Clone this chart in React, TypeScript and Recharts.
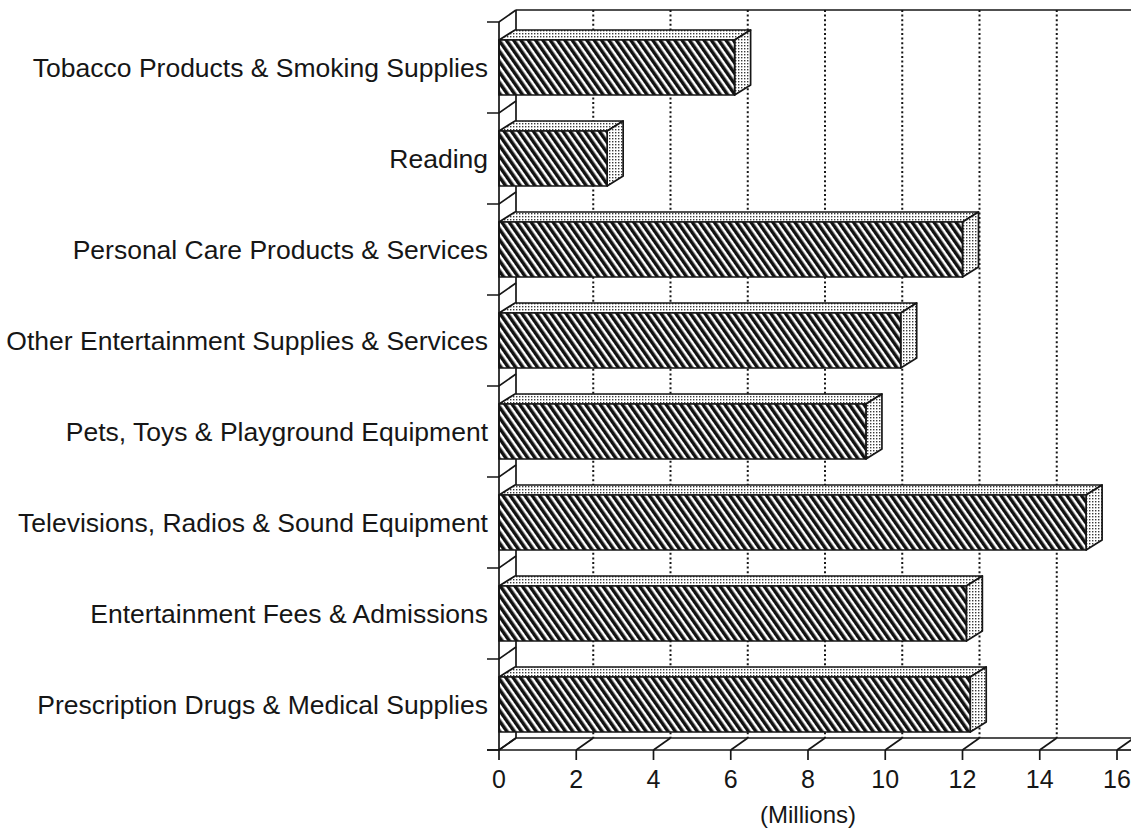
import { BarChart, Bar, XAxis, YAxis, CartesianGrid } from 'recharts';

const categories = [
  'Tobacco Products & Smoking Supplies',
  'Reading',
  'Personal Care Products & Services',
  'Other Entertainment Supplies & Services',
  'Pets, Toys & Playground Equipment',
  'Televisions, Radios & Sound Equipment',
  'Entertainment Fees & Admissions',
  'Prescription Drugs & Medical Supplies',
];
// spending, millions
const spending = [6.1, 2.8, 12.0, 10.4, 9.5, 15.2, 12.1, 12.2];
const xTicks = [0, 2, 4, 6, 8, 10, 12, 14, 16];

const rows = categories.map((name, i) => ({ name, value: spending[i] }));

const W = 1131;
const H = 831;
const PLOT_LEFT = 499;
const PLOT_TOP = 22;
const PLOT_RIGHT = 14;
const AXIS_H = 81;
const BAND = (H - PLOT_TOP - AXIS_H) / categories.length;

// depth of the back wall / floor, and of each bar box
const WALL_DX = 17;
const WALL_DY = -12;
const BOX_DX = 16;
const BOX_DY = -10;

const INK = '#161616';
const LINE_W = 1.7;
const FONT = '"Liberation Sans", Arial, Helvetica, sans-serif';

function Box3D(props: any) {
  const { x, y, width, height } = props;
  if (width == null || height == null) return null;
  const r = x + width;
  return (
    <g stroke={INK} strokeWidth={LINE_W} strokeLinejoin="round">
      <polygon
        points={`${x},${y} ${x + BOX_DX},${y + BOX_DY} ${r + BOX_DX},${y + BOX_DY} ${r},${y}`}
        fill="url(#stipple)"
      />
      <polygon
        points={`${r},${y} ${r + BOX_DX},${y + BOX_DY} ${r + BOX_DX},${y + height + BOX_DY} ${r},${y + height}`}
        fill="url(#stipple)"
      />
      <rect x={x} y={y} width={width} height={height} fill="url(#hatch)" />
    </g>
  );
}

function WallLine(p: any) {
  const { x1, y1, y2, index } = p;
  return (
    <line
      x1={x1 + WALL_DX}
      x2={x1 + WALL_DX}
      y1={y1 + WALL_DY}
      y2={y2 + WALL_DY}
      stroke={INK}
      strokeWidth={index === 0 ? LINE_W : 2}
      strokeDasharray={index === 0 ? undefined : '2 2.6'}
    />
  );
}

function CategoryTick({ x, y, payload, index }: any) {
  const top = y - BAND / 2;
  const edges = index === categories.length - 1 ? [top, y + BAND / 2] : [top];
  return (
    <g>
      {edges.map(e => (
        <polyline
          key={e}
          points={`${x - 12},${e} ${x},${e} ${x + WALL_DX},${e + WALL_DY}`}
          fill="none"
          stroke={INK}
          strokeWidth={LINE_W}
        />
      ))}
      <text x={x - 11} y={y + 9} textAnchor="end" fontSize={26.5} fontFamily={FONT} fill={INK}>
        {payload.value}
      </text>
    </g>
  );
}

function ValueTick({ x, y, payload, index }: any) {
  const last = index === xTicks.length - 1;
  return (
    <g>
      <g stroke={INK} strokeWidth={LINE_W} fill="none">
        <line x1={x} y1={y} x2={x} y2={y + 10} />
        <line x1={x} y1={y} x2={x + WALL_DX} y2={y + WALL_DY} />
        {index === 0 && (
          <>
            <line x1={x - 12} y1={y} x2={x} y2={y} />
            <line x1={x + WALL_DX} y1={y + WALL_DY} x2={W} y2={y + WALL_DY} />
            <line x1={x + WALL_DX} y1={PLOT_TOP + WALL_DY} x2={W} y2={PLOT_TOP + WALL_DY} />
          </>
        )}
        {last && <line x1={x} y1={y} x2={W} y2={y} />}
      </g>
      <text x={x} y={y + 38} textAnchor="middle" fontSize={25} fontFamily={FONT} fill={INK}>
        {payload.value}
      </text>
    </g>
  );
}

export default function App() {
  return (
    <div style={{ position: 'absolute', left: 0, top: 0, width: W, height: H, background: '#fff' }}>
      <svg width={0} height={0} style={{ position: 'absolute' }}>
        <defs>
          <pattern id="hatch" width={6} height={6} patternUnits="userSpaceOnUse" patternTransform="rotate(-35)">
            <rect width={6} height={6} fill="#fff" />
            <rect width={3.5} height={6} fill="#111" />
          </pattern>
          <pattern id="stipple" width={3} height={3} patternUnits="userSpaceOnUse">
            <rect width={3} height={3} fill="#fff" />
            <rect width={1.4} height={1.4} fill="#3a3a3a" />
          </pattern>
        </defs>
      </svg>
      <BarChart
        width={W}
        height={H}
        data={rows}
        layout="vertical"
        barSize={55}
        margin={{ top: PLOT_TOP, right: PLOT_RIGHT, bottom: 0, left: 0 }}
      >
        <CartesianGrid horizontal={false} vertical={WallLine} />
        <XAxis
          type="number"
          domain={[0, 16]}
          ticks={xTicks}
          interval={0}
          height={AXIS_H}
          tick={ValueTick}
          tickLine={false}
          tickSize={0}
          tickMargin={0}
          axisLine={{ stroke: INK, strokeWidth: LINE_W }}
          label={{ value: '(Millions)', position: 'insideBottom', offset: 8, fontSize: 24, fill: INK, fontFamily: FONT }}
        />
        <YAxis
          type="category"
          dataKey="name"
          width={PLOT_LEFT}
          interval={0}
          tick={CategoryTick}
          tickLine={false}
          tickSize={0}
          tickMargin={0}
          axisLine={{ stroke: INK, strokeWidth: LINE_W }}
        />
        <Bar dataKey="value" shape={Box3D} isAnimationActive={false} />
      </BarChart>
    </div>
  );
}
